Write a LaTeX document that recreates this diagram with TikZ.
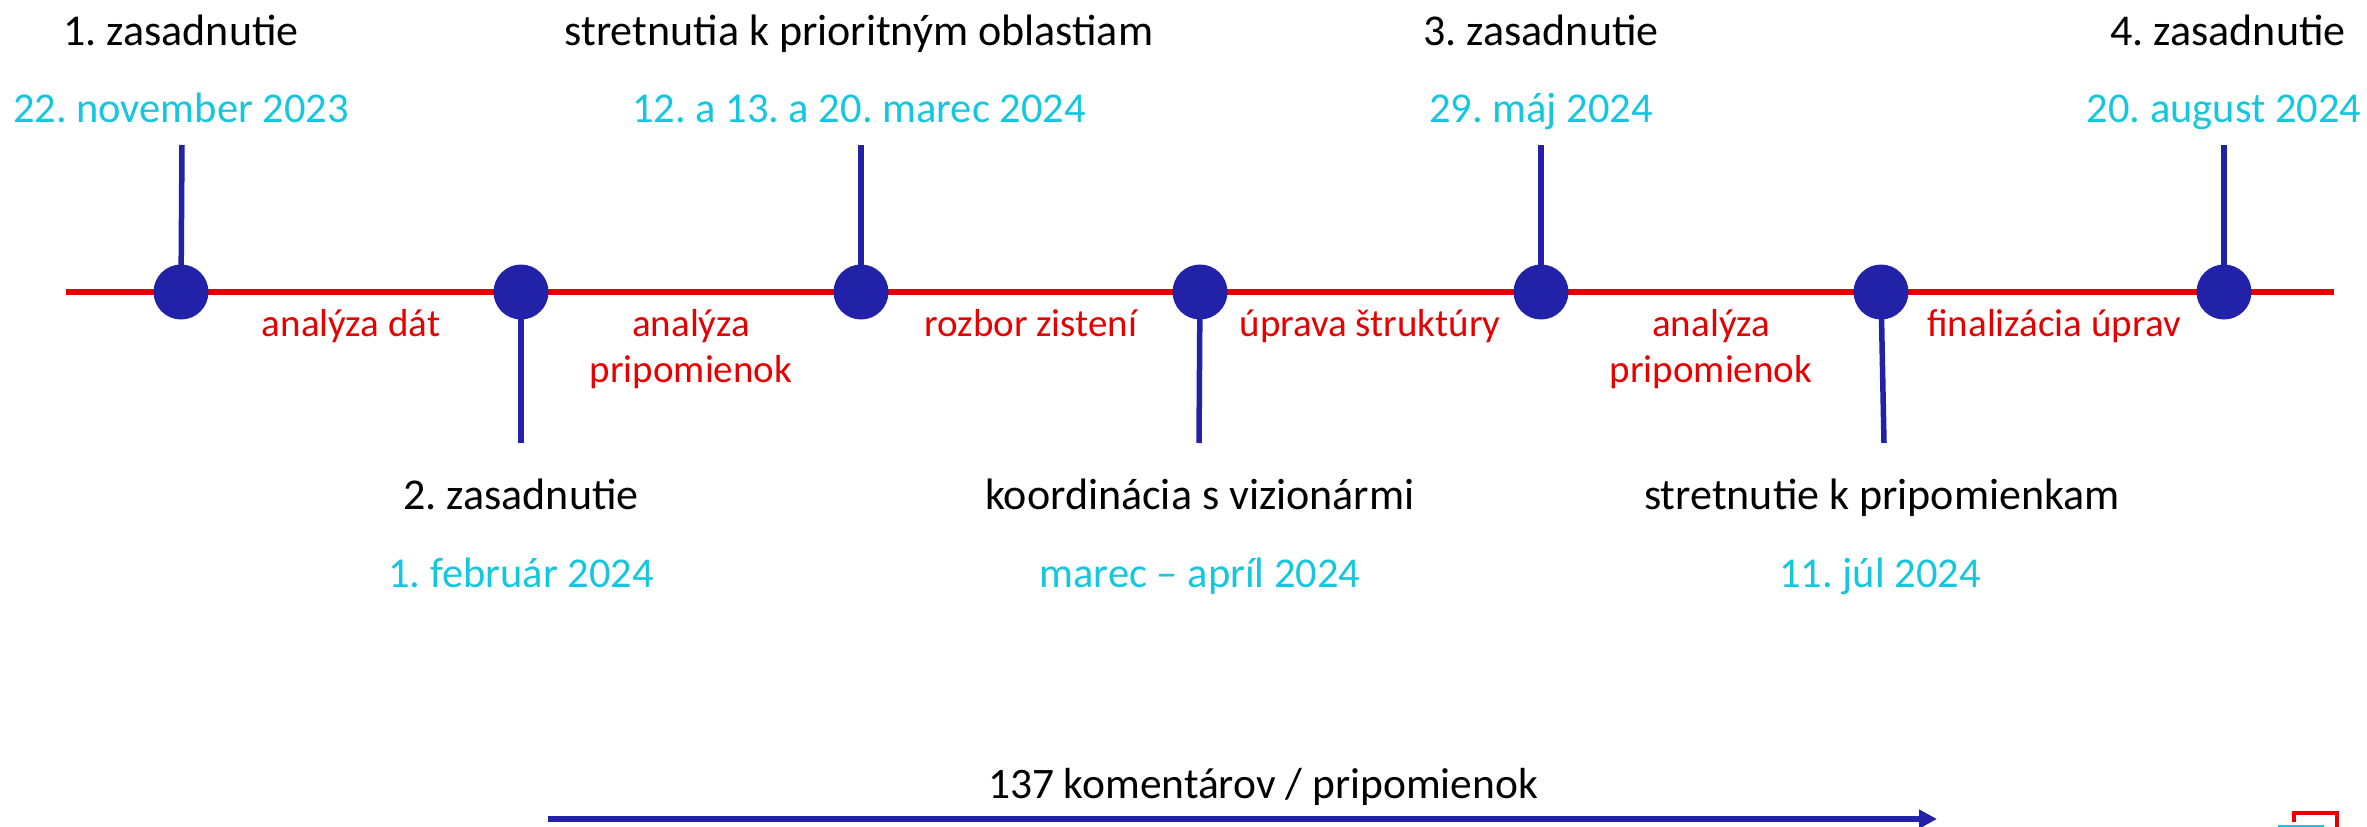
\documentclass[tikz,border=0pt]{standalone}
\usepackage{fontspec}
\setmainfont{Carlito}
\frenchspacing
\usetikzlibrary{arrows.meta}
\definecolor{tlred}{RGB}{232,0,0}
\definecolor{tlblue}{RGB}{34,34,168}
\definecolor{tlcyan}{RGB}{20,198,222}
\tikzset{
  dot/.style={circle,fill=tlblue,minimum size=55pt,inner sep=0pt},
  stem/.style={draw=tlblue,line width=5.5pt},
  head/.style={anchor=base,text=black,inner sep=0pt,font=\fontsize{44}{52}\selectfont},
  when/.style={anchor=base,text=tlcyan,inner sep=0pt,font=\fontsize{42.5}{50}\selectfont},
  phase/.style={anchor=base,text=tlred,inner sep=0pt,align=center,font=\fontsize{39}{46}\selectfont},
}
\begin{document}
\begin{tikzpicture}[x=1pt,y=-1pt]
\useasboundingbox (0,0) rectangle (2367,827);
% timeline
\coordinate (L) at (66,292);
\coordinate (R) at (2334,292);
\draw[tlred,line width=6pt] (L) -- (R);
% stems endpoints
\coordinate (t1) at (182,145);
\coordinate (b2) at (521,443);
\coordinate (t3) at (861,145);
\coordinate (b4) at (1199,443);
\coordinate (t5) at (1541,145);
\coordinate (b6) at (1884,443);
\coordinate (t7) at (2224,145);
\coordinate (s1) at (181,292);
\coordinate (s2) at (521,292);
\coordinate (s3) at (861,292);
\coordinate (s4) at (1200,292);
\coordinate (s5) at (1541,292);
\coordinate (s6) at (1881,292);
\coordinate (s7) at (2224,292);
\draw[stem] (t1) -- (s1);
\draw[stem] (b2) -- (s2);
\draw[stem] (t3) -- (s3);
\draw[stem] (b4) -- (s4);
\draw[stem] (t5) -- (s5);
\draw[stem] (b6) -- (s6);
\draw[stem] (t7) -- (s7);
% dots
\node[dot] (c1) at (s1) {};
\node[dot] (c2) at (s2) {};
\node[dot] (c3) at (s3) {};
\node[dot] (c4) at (s4) {};
\node[dot] (c5) at (s5) {};
\node[dot] (c6) at (s6) {};
\node[dot] (c7) at (s7) {};
% top labels
\node[head] (h1) at (181,45) {1. zasadnutie};
\node[when] (d1) at (181,122) {22. november 2023};
\node[head] (h3) at (859,45) {stretnutia k prioritným oblastiam};
\node[when] (d3) at (859,122) {12. a 13. a 20. marec 2024};
\node[head] (h5) at (1541,45) {3. zasadnutie};
\node[when] (d5) at (1541,122) {29. máj 2024};
\node[head] (h7) at (2228,45) {4. zasadnutie};
\node[when] (d7) at (2224,122) {20. august 2024};
% bottom labels
\node[head] (h2) at (521,509) {2. zasadnutie};
\node[when] (d2) at (521,587) {1. február 2024};
\node[head] (h4) at (1200,509) {koordinácia s vizionármi};
\node[when] (d4) at (1200,587) {marec – apríl 2024};
\node[head] (h6) at (1882,509) {stretnutie k pripomienkam};
\node[when] (d6) at (1880,587) {11. júl 2024};
% phases
\node[phase] (p1) at (351,336) {analýza dát};
\node[phase] (p2) at (691,382) {analýza\\pripomienok};
\node[phase] (p3) at (1031,336) {rozbor zistení};
\node[phase] (p4) at (1370,336) {úprava štruktúry};
\node[phase] (p5) at (1711,382) {analýza\\pripomienok};
\node[phase] (p6) at (2054,336) {finalizácia úprav};
% comments arrow
\node[head,font=\fontsize{43.5}{52}\selectfont] (k) at (1263,798) {137 komentárov / pripomienok};
\coordinate (a1) at (548,819);
\coordinate (a2) at (1937,819);
\draw[tlblue,line width=6pt,-{Triangle[length=18pt,width=18pt]}] (a1) -- (a2);
% cut-off logo at bottom right
\draw[tlred,line width=4pt] (2294,822) -- (2294,813) -- (2337,813) -- (2337,827);
\draw[tlcyan,line width=3pt] (2278,826.5) -- (2324,826.5);
\end{tikzpicture}
\end{document}
